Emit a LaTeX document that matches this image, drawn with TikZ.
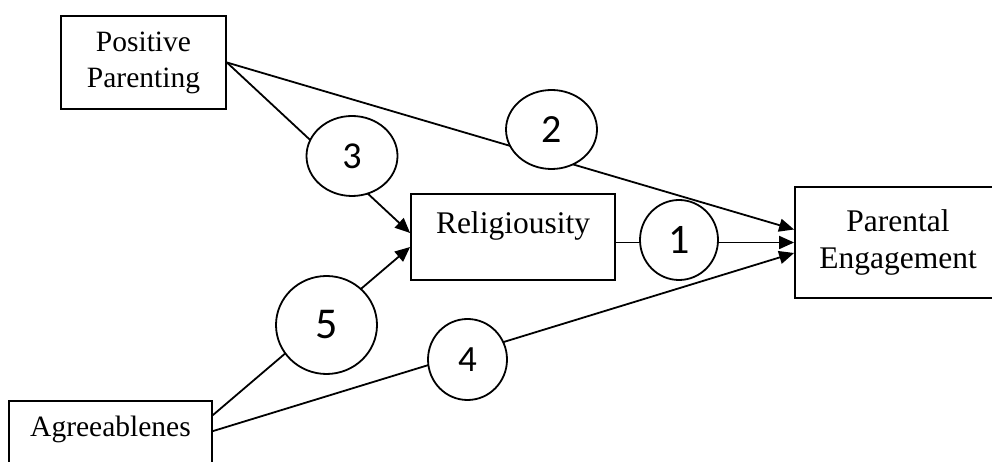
\documentclass[tikz,border=0pt]{standalone}
\usepackage{fontspec}
\setmainfont{Liberation Serif}
\newfontfamily\numfont{Carlito}
\usetikzlibrary{arrows.meta,shapes.geometric}
\begin{document}
\begin{tikzpicture}[x=1pt,y=1pt,
  box/.style={draw, line width=1.8pt, rectangle, inner sep=0pt, font=\fontsize{29.5}{36}\selectfont},
  bigtext/.style={font=\fontsize{31.5}{37}\selectfont},
  num/.style={draw, line width=1.8pt, ellipse, fill=white, inner sep=0pt},
  link/.style={line width=1.8pt},
  arr/.style={link, -{Triangle[length=15pt,width=13pt]}}]
\useasboundingbox (0,0) rectangle (992,462);
\clip (0,0) rectangle (992,462);
% boxes
\node[box, align=center, minimum width=165, minimum height=93] (pp) at (143.5,399.5) {Positive\\Parenting};
\node[box, bigtext, minimum width=204, text height=40pt, text depth=46pt, anchor=base] (rel) at (513,228) {Religiousity};
\node[box, bigtext, align=center, minimum width=206, minimum height=111] (pe) at (898,219.5) {Parental\\Engagement};
\node[box, minimum width=203, text height=36pt, text depth=45pt, anchor=base] (ag) at (110.5,25) {Agreeablenes};
% connectors
\draw[arr] (pp.east) -- ([yshift=13pt]pe.west);
\draw[arr] (pp.east) -- ([yshift=4pt]rel.west);
\draw[arr] (rel.east |- pe.west) -- (pe.west);
\draw[arr] ([yshift=-15pt]ag.north east) -- ([yshift=-10pt]rel.west);
\draw[arr] ([yshift=-31pt]ag.north east) -- ([yshift=-10.5pt]pe.west);
% path labels
\node[num, minimum width=78, minimum height=80, font=\numfont\fontsize{42}{42}\selectfont] (c1) at (679,222) {1};
\node[num, minimum width=91, minimum height=79, font=\numfont\fontsize{40}{40}\selectfont] (c2) at (551.5,332.5) {2};
\node[num, minimum width=91, minimum height=80, font=\numfont\fontsize{38}{38}\selectfont] (c3) at (352,306) {3};
\node[num, minimum width=79, minimum height=81, font=\numfont\fontsize{37}{37}\selectfont] (c4) at (467.5,102.5) {4};
\node[num, minimum width=101, minimum height=98, font=\numfont\fontsize{44}{44}\selectfont] (c5) at (326.5,137) {5};
\end{tikzpicture}
\end{document}
